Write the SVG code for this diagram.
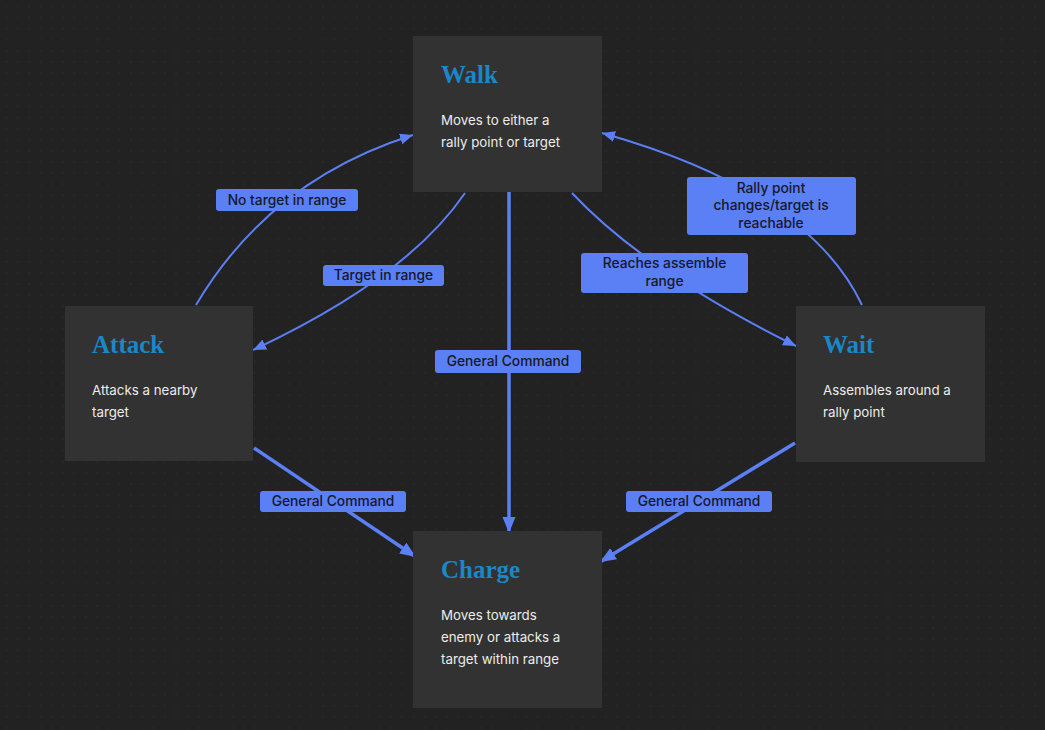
<svg xmlns="http://www.w3.org/2000/svg" width="1045" height="730" viewBox="0 0 1045 730">
<defs>
<pattern id="dots" x="1" y="1" width="11.3" height="11.1" patternUnits="userSpaceOnUse">
<circle cx="5.6" cy="5.6" r="0.9" fill="#2a2a2a"/>
</pattern>
<marker id="ah" markerUnits="userSpaceOnUse" markerWidth="14" markerHeight="12" refX="13" refY="5.5" orient="auto">
<path d="M0,0 L13,5.5 L0,11 z" fill="#5b7ff5"/>
</marker>
<marker id="ahb" markerUnits="userSpaceOnUse" markerWidth="18" markerHeight="14" refX="16" refY="6.5" orient="auto">
<path d="M0,0 L16,6.5 L0,13 z" fill="#5b7ff5"/>
</marker>
</defs>
<style>
.node{fill:#323232;}
.title{font-family:"Liberation Serif","Times New Roman",serif;font-weight:bold;font-size:25px;fill:#1a87c6;}
.body{font-family:Inter,"Noto Sans",sans-serif;font-size:13.3px;fill:#ececec;}
.edge{fill:none;stroke:#5b7ff5;stroke-width:2;}
.edgeb{fill:none;stroke:#5b7ff5;stroke-width:3.5;}
.lbl{fill:#5b7ff5;}
.lt{font-family:Inter,"Noto Sans",sans-serif;font-size:13.8px;fill:#16182a;text-anchor:middle;font-weight:500;}
</style>
<rect width="1045" height="730" fill="#222222"/>
<rect width="1045" height="730" fill="url(#dots)"/>

<g id="connectors">
<path class="edge" d="M196,305 Q270,180 413,135" marker-end="url(#ah)"/>
<path class="edge" d="M465,193 Q407,278 253,350" marker-end="url(#ah)"/>
<path class="edgeb" d="M509,192 L509,533" marker-end="url(#ahb)"/>
<path class="edge" d="M572,193 Q645,271 796,346" marker-end="url(#ah)"/>
<path class="edge" d="M862,305 Q808,191 602,133" marker-end="url(#ah)"/>
<path class="edgeb" d="M254,448 L416,557" marker-end="url(#ahb)"/>
<path class="edgeb" d="M795,443 L600,562" marker-end="url(#ahb)"/>

<rect class="lbl" x="216" y="189" width="142" height="22" rx="3"/>
<text class="lt" x="287" y="205">No target in range</text>
<rect class="lbl" x="323" y="265" width="121" height="21" rx="3"/>
<text class="lt" x="383.5" y="280">Target in range</text>
<rect class="lbl" x="435" y="350" width="146" height="23" rx="3"/>
<text class="lt" x="508" y="366">General Command</text>
<rect class="lbl" x="581" y="253" width="167" height="40" rx="3"/>
<text class="lt" x="664.5" y="268">Reaches assemble</text>
<text class="lt" x="664.5" y="286">range</text>
<rect class="lbl" x="687" y="177" width="169" height="58" rx="3"/>
<text class="lt" x="771" y="193">Rally point</text>
<text class="lt" x="771" y="210">changes/target is</text>
<text class="lt" x="771" y="228">reachable</text>
<rect class="lbl" x="260" y="491" width="146" height="21" rx="3"/>
<text class="lt" x="333" y="506">General Command</text>
<rect class="lbl" x="626" y="491" width="146" height="21" rx="3"/>
<text class="lt" x="699" y="506">General Command</text>
</g>

<g id="walk">
<rect class="node" x="413" y="36" width="189" height="156"/>
<text class="title" x="441" y="83">Walk</text>
<text class="body" x="441" y="125">Moves to either a</text>
<text class="body" x="441" y="147">rally point or target</text>
</g>
<g id="attack">
<rect class="node" x="65" y="306" width="188" height="155"/>
<text class="title" x="92" y="353">Attack</text>
<text class="body" x="92" y="395">Attacks a nearby</text>
<text class="body" x="92" y="417">target</text>
</g>
<g id="wait">
<rect class="node" x="796" y="306" width="189" height="156"/>
<text class="title" x="823" y="353">Wait</text>
<text class="body" x="823" y="395">Assembles around a</text>
<text class="body" x="823" y="417">rally point</text>
</g>
<g id="charge">
<rect class="node" x="413" y="531" width="189" height="177"/>
<text class="title" x="441" y="578">Charge</text>
<text class="body" x="441" y="620">Moves towards</text>
<text class="body" x="441" y="642">enemy or attacks a</text>
<text class="body" x="441" y="664">target within range</text>
</g>
</svg>
